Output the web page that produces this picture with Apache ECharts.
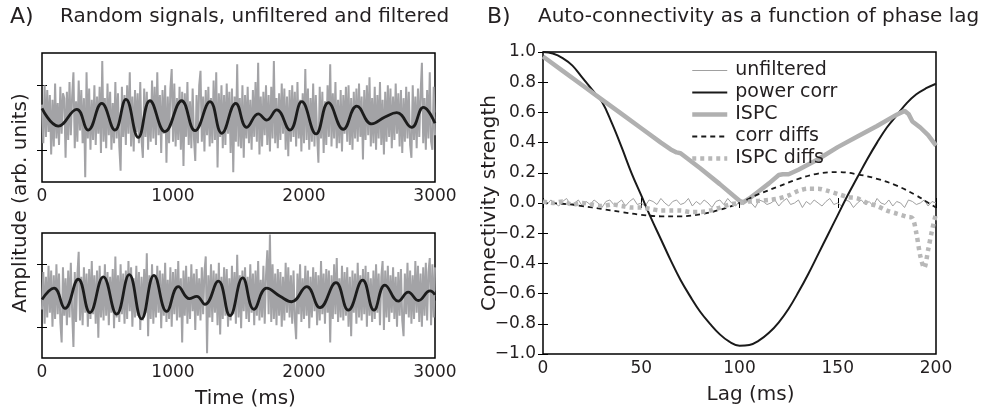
<!DOCTYPE html>
<html><head><meta charset="utf-8">
<script src="https://cdn.jsdelivr.net/npm/echarts@6/dist/echarts.min.js"></script>
<style>html,body{margin:0;padding:0;background:#fff}#c{width:981px;height:410px}</style>
</head><body><div id="c"></div>
<script>
// ---------- Panel A data ----------
const timeRange = [0, 3000];
const timeTicks = [0, 1000, 2000, 3000];
// unfiltered signal (estimated, one value per ~10 ms)
const noiseTop = [
0.8,-1.6,2.0,-1.2,1.7,-0.9,1.4,-2.3,1.1,-1.8,2.1,-1.3,0.9,-1.7,1.9,-1.0,1.5,1.2,-2.5,1.6,
-1.4,2.2,-1.1,1.3,2.8,-1.9,1.0,-1.5,2.3,-0.8,1.7,-1.6,1.2,-3.7,2.8,-1.3,1.8,-2.0,1.1,-1.4,
2.0,-1.7,1.3,-1.0,1.9,-2.2,3.5,-1.5,1.2,-1.9,2.1,-1.1,1.6,-2.0,0.9,-1.6,2.2,-1.3,1.5,-1.8,
-3.3,1.9,-1.2,1.4,-1.7,2.0,-1.0,2.8,-1.8,1.3,-2.1,1.7,-0.9,1.5,-1.6,2.2,-1.4,-2.5,1.8,-1.2,
1.6,-2.0,1.1,-1.5,2.3,-1.3,1.9,-1.7,2.8,-1.1,1.4,-2.2,1.7,-1.0,2.0,-2.8,1.3,-1.6,1.8,3.0,
-1.5,2.1,-1.8,1.2,-1.4,1.9,-2.0,1.6,-3.0,1.5,-1.2,2.2,-1.7,1.0,-1.9,1.8,-1.3,-2.7,1.4,-1.6,
2.0,2.9,-1.5,1.3,-2.1,1.7,-1.1,1.9,-1.8,1.2,-1.6,2.3,-1.4,2.8,-3.1,1.5,-1.2,2.0,-1.9,1.4,
-1.7,2.1,-1.0,1.6,-2.2,1.8,-3.4,1.3,-1.5,3.3,-1.8,1.2,-1.9,2.0,-2.5,1.4,-1.3,1.9,-1.6,1.1,
-2.0,1.7,-1.2,2.2,-1.5,3.4,-2.3,1.3,-1.8,1.6,-1.1,2.0,-1.7,1.4,-2.1,1.9,-1.3,3.5,-1.6,1.2,
-1.9,1.5,-1.4,2.1,-1.0,1.8,-2.0,1.3,-2.4,1.7,-1.5,2.0,-1.2,1.6,-1.8,2.2,-1.3,1.1,-2.1,1.5,
-1.6,3.0,-1.4,1.8,-2.0,1.2,-1.5,2.1,-1.8,1.4,-1.1,-2.8,1.9,-1.3,1.6,-2.2,1.0,-1.7,2.0,-1.2,
3.3,-1.8,1.5,-1.3,2.2,-1.9,1.1,-1.6,1.7,-2.1,1.4,-1.0,1.9,-1.5,2.0,-1.7,1.2,-2.0,1.6,-1.3,
1.8,-1.5,2.1,-1.2,1.3,-2.6,1.7,-1.4,2.0,-1.1,2.5,-1.8,1.2,-1.6,1.9,-2.0,1.4,-1.3,2.2,-1.7,
1.1,-2.3,1.6,-1.5,2.0,-1.2,1.8,-1.9,1.3,-1.4,2.1,-1.0,1.5,-1.8,1.7,-2.2,1.2,-1.5,1.9,-1.3,
1.6,-1.7,-2.5,2.0,-1.4,1.3,-1.9,1.8,-1.2,1.5,3.4,-1.6,1.2,-2.0,1.7,-1.3,2.8,-1.5,-2.0,1.9,
-1.1];
const noiseBottom = [
-0.9,1.5,-1.8,1.2,-1.4,1.9,-1.1,1.6,-2.0,1.3,-1.5,2.0,-1.2,1.4,-1.7,-3.0,1.8,-1.3,1.1,-1.9,
1.6,-1.4,2.1,-1.0,-3.3,1.5,-1.7,1.3,2.8,-1.6,1.2,-1.9,1.8,-1.1,1.4,-2.0,1.7,-1.5,2.2,-1.2,
1.3,-1.8,1.6,-2.7,1.9,-1.4,1.1,-1.6,2.0,-1.3,1.5,-1.9,1.2,-1.1,1.7,-2.1,2.5,-1.4,1.3,-1.7,
2.0,-1.2,1.4,-1.8,1.6,-1.5,2.2,-1.0,1.8,-2.0,1.1,-1.4,1.9,-1.3,1.5,-2.2,1.2,-1.6,1.7,-1.1,
2.7,-2.6,1.3,-1.5,2.0,-1.8,1.2,-1.4,1.9,-1.1,1.6,-2.1,1.4,-1.3,2.1,-1.7,1.0,-1.5,1.8,-2.0,
1.5,-1.2,1.7,-1.6,2.2,-1.4,1.1,-3.0,1.6,-1.3,1.9,-1.8,1.2,-1.5,2.0,-1.0,1.4,-2.2,1.7,-1.3,
1.1,-1.6,1.8,-1.2,1.5,2.5,-3.7,1.3,-1.4,2.0,-1.7,1.6,-1.1,1.4,-1.9,2.1,-2.5,1.2,-1.5,1.8,
-1.3,1.7,-2.0,1.1,-1.6,1.9,-1.2,1.5,-1.8,2.6,-1.4,1.3,-2.1,1.6,-1.0,1.8,-1.5,1.2,-1.7,2.0,
-1.1,1.4,-1.9,1.6,-1.3,2.2,-1.6,1.0,-1.4,1.9,-1.8,1.3,2.9,-1.2,3.9,-1.7,2.0,-1.5,1.4,-1.9,
1.7,-1.3,1.5,-2.0,1.2,-1.6,2.1,-1.1,1.8,-1.4,1.3,-1.8,1.6,-1.5,-2.8,1.4,-1.2,2.0,-1.7,1.1,
-1.5,1.9,-1.3,1.6,-2.1,1.2,-1.4,1.8,-1.0,1.5,-1.9,1.3,-1.6,2.2,-1.2,1.4,-1.8,1.7,-1.1,1.6,
-3.0,1.3,-1.5,2.0,-1.2,2.4,-1.7,1.1,-1.4,1.9,-1.6,1.5,-1.3,1.8,-2.0,1.2,-2.6,1.6,-1.1,1.4,
-1.8,2.1,-1.4,1.3,-1.6,1.7,-1.2,1.9,-2.0,1.5,-1.3,1.1,-1.7,1.6,-1.5,2.0,-1.1,1.4,-1.9,1.2,
2.2,-2.2,1.6,-1.4,1.9,-1.7,1.3,-1.1,1.8,-1.5,1.2,-2.0,1.5,-1.3,1.7,-1.6,-2.6,1.4,-1.2,2.1,
-1.4,1.6,-1.8,1.3,-1.5,2.2,-1.1,1.9,-1.7,1.4,-2.0,1.8,-1.3,2.1,-1.6,1.5,2.4,-1.9,2.0,-1.4,
1.8];
// filtered signal: times (ms) of read points and values
const filtTopT = [0,124,265,353,456,557,641,735,824,939,1066,1168,1283,1372,1479,1563,1651,1715,1792,1893,1983,2092,2186,2300,2403,2517,2618,2708,2822,2911,3000];
const filtTopV = [0.57,-0.53,0.51,-0.78,0.88,-0.78,1.13,-1.23,1.04,-0.88,1.04,-0.82,0.98,-0.98,0.88,-0.61,0.22,-0.16,0.47,-0.78,0.98,-1.02,0.92,-0.73,0.71,-0.40,0.03,0.30,-0.61,0.63,-0.36];
const filtBotT = [0,92,176,277,366,468,570,666,760,855,952,1041,1125,1181,1244,1346,1435,1532,1618,1715,1817,1906,2021,2122,2244,2338,2448,2534,2618,2720,2796,2873,2962,3000];
const filtBotV = [-0.26,0.47,-0.82,1.04,-1.09,1.19,-1.19,1.33,-1.50,1.29,-1.02,0.57,-0.20,-0.05,-0.57,0.92,-1.29,1.13,-0.88,0.47,-0.05,-0.40,0.57,-0.78,0.82,-0.94,0.98,-0.94,0.67,-0.36,0.22,-0.32,0.30,0.05];

// ---------- Panel B data ----------
const lagRange = [0, 200];
const unfiltLag = Array.from({length: 101}, (_, i) => i * 2);
const unfiltered = [
0.01,-0.01,0.02,0.0,-0.02,0.01,0.03,-0.01,0.0,0.02,-0.02,0.01,-0.01,0.02,0.0,-0.03,0.01,0.02,-0.01,0.0,
0.02,-0.02,0.01,0.03,-0.01,0.0,-0.02,0.02,0.01,-0.01,0.03,0.0,-0.02,0.01,0.02,-0.01,0.0,0.03,-0.02,0.01,
-0.01,0.02,0.0,-0.03,0.01,0.02,-0.01,0.03,0.0,-0.02,0.01,-0.01,0.02,0.0,-0.03,0.02,0.01,-0.01,0.0,0.02,
-0.02,0.01,0.03,-0.01,0.0,0.02,-0.03,0.01,-0.01,0.02,0.0,-0.02,0.01,0.03,-0.01,0.0,-0.02,0.02,0.01,-0.03,
0.0,0.02,-0.01,0.01,-0.02,0.03,0.0,-0.01,0.02,-0.02,0.01,0.0,-0.03,0.02,0.01,-0.01,0.0,0.02,-0.02,0.01,
0.0];
const powerLag = [0,5,10,15,20,25,30,35,40,45,50,55,60,65,70,75,80,85,90,95,100,105,110,115,120,125,130,135,140,145,150,155,160,165,170,175,180,185,190,195,200];
const powerCorr = [1.00,0.99,0.96,0.91,0.83,0.75,0.67,0.53,0.37,0.20,0.05,-0.10,-0.24,-0.38,-0.51,-0.62,-0.72,-0.80,-0.87,-0.92,-0.945,-0.94,-0.91,-0.86,-0.79,-0.70,-0.59,-0.47,-0.34,-0.21,-0.08,0.05,0.17,0.29,0.40,0.50,0.58,0.66,0.72,0.76,0.79];
const ispcLag = [0,10,20,30,40,50,60,65,68,70,75,80,90,100,102,105,110,115,120,122,125,130,140,150,160,170,180,184,186,188,192,196,200];
const ispc = [0.97,0.875,0.78,0.685,0.59,0.495,0.40,0.355,0.335,0.33,0.28,0.23,0.125,0.015,0.005,0.03,0.08,0.13,0.185,0.19,0.19,0.22,0.29,0.37,0.44,0.51,0.585,0.61,0.59,0.54,0.50,0.45,0.38];
const corrDiffLag = [0,10,20,30,40,50,60,70,80,90,100,105,110,120,130,140,150,160,170,180,190,195,200];
const corrDiffs = [0.0,-0.005,-0.02,-0.04,-0.06,-0.078,-0.088,-0.088,-0.075,-0.045,0.0,0.03,0.06,0.11,0.16,0.195,0.205,0.19,0.16,0.115,0.05,0.01,-0.03];
const ispcDiffLag = [0,5,10,15,20,25,30,35,40,45,50,55,60,65,70,75,80,85,90,95,100,105,110,115,120,125,130,135,140,145,150,155,160,165,170,175,180,185,188,190,192,194,196,198,200];
const ispcDiffs = [0.01,0.0,0.01,-0.01,0.0,-0.01,-0.02,-0.01,-0.02,-0.03,-0.03,-0.04,-0.05,-0.05,-0.05,-0.06,-0.06,-0.05,-0.03,-0.01,0.0,0.01,0.015,0.02,0.03,0.05,0.08,0.095,0.095,0.08,0.06,0.04,0.03,0.0,-0.02,-0.05,-0.07,-0.09,-0.1,-0.2,-0.35,-0.43,-0.31,-0.18,-0.07];
const lagTicks = [0, 50, 100, 150, 200];
const connRange = [-1, 1];

// ---------- build ----------
const FONT = 'DejaVu Sans';
const TXT = '#231f20';
const zip = (xs, ys) => xs.map((x, i) => [x, ys[i]]);
const sampled = (vals) => vals.map((v, i) => [timeRange[0] + i * (timeRange[1] - timeRange[0]) / (vals.length - 1), v]);

const tick = {show: true, inside: true, length: 5, lineStyle: {color: '#000', width: 1}};
function xPair(grid, min, max, interval, labelFn, name, nameShift) {
  return [
    {type: 'value', gridIndex: grid, min, max, interval, position: 'bottom',
     axisLine: {show: false}, splitLine: {show: false}, axisTick: tick,
     axisLabel: {show: true, formatter: labelFn, color: TXT, fontFamily: FONT, fontSize: 17, margin: 6, hideOverlap: false},
     name: name || '', nameLocation: 'middle', nameGap: 31, nameMoveOverlap: false,
     nameTextStyle: {color: TXT, fontFamily: FONT, fontSize: 20, padding: [0, 0, 0, nameShift || 0]}},
    {type: 'value', gridIndex: grid, min, max, interval, position: 'top',
     axisLine: {show: false}, splitLine: {show: false}, axisTick: tick, axisLabel: {show: false}}
  ];
}
const tLabel = v => (timeTicks.indexOf(v) >= 0 ? String(v) : '');
const lagLabel = v => (lagTicks.indexOf(v) >= 0 ? String(v) : '');
const connLabel = v => { if (Math.abs(v) < 1e-9) return '0.0'; return v.toFixed(1).replace('-', '\u2212'); };

const xAxis = [].concat(
  xPair(0, 0, 3000, 500, tLabel),
  xPair(1, 0, 3000, 500, tLabel, 'Time (ms)', 14),
  xPair(2, 0, 200, 50, lagLabel, 'Lag (ms)', 22)
);
function yA(grid, pos) {
  return {type: 'value', gridIndex: grid, min: -4, max: 4, position: pos,
    axisLine: {show: false}, splitLine: {show: false},
    axisTick: Object.assign({}, tick, {customValues: [-2, 2]}), axisLabel: {show: false}};
}
const yAxis = [
  yA(0, 'left'), yA(0, 'right'), yA(1, 'left'), yA(1, 'right'),
  {type: 'value', gridIndex: 2, min: connRange[0], max: connRange[1], interval: 0.2, position: 'left',
   axisLine: {show: false}, splitLine: {show: false}, axisTick: tick,
   axisLabel: {formatter: connLabel, color: TXT, fontFamily: FONT, fontSize: 17, margin: 7},
   name: 'Connectivity strength', nameLocation: 'middle', nameGap: 43, nameMoveOverlap: false,
   nameTextStyle: {color: TXT, fontFamily: FONT, fontSize: 20}},
  {type: 'value', gridIndex: 2, min: connRange[0], max: connRange[1], interval: 0.2, position: 'right',
   axisLine: {show: false}, splitLine: {show: false}, axisTick: tick, axisLabel: {show: false}}
];
const box = {show: true, borderColor: '#000', borderWidth: 1.5, backgroundColor: 'transparent', containLabel: false};
const grid = [
  Object.assign({left: 42, top: 53, width: 393, height: 129}, box),
  Object.assign({left: 42, top: 233, width: 393, height: 129}, box),
  Object.assign({left: 543, top: 52, width: 393, height: 310}, box)
];
const base = {type: 'line', symbol: 'none', animation: false, silent: true};
const GRAYN = '#a3a3a6';
const styles = {
  unfiltered: {color: '#a0a0a0', width: 1},
  power: {color: '#1a1a1a', width: 2},
  ispc: {color: '#b0b0b0', width: 4.5},
  corrDiff: {color: '#1a1a1a', width: 1.8, type: [5, 4]},
  ispcDiff: {color: '#b8b8b8', width: 4.5, type: [4, 4]}
};
const series = [
  Object.assign({}, base, {xAxisIndex: 0, yAxisIndex: 0, data: sampled(noiseTop), lineStyle: {color: GRAYN, width: 2}}),
  Object.assign({}, base, {xAxisIndex: 0, yAxisIndex: 0, data: zip(filtTopT, filtTopV), smooth: 0.45, lineStyle: {color: '#1c1c1c', width: 2.8}}),
  Object.assign({}, base, {xAxisIndex: 2, yAxisIndex: 2, data: sampled(noiseBottom), lineStyle: {color: GRAYN, width: 2}}),
  Object.assign({}, base, {xAxisIndex: 2, yAxisIndex: 2, data: zip(filtBotT, filtBotV), smooth: 0.45, lineStyle: {color: '#1c1c1c', width: 2.8}}),
  Object.assign({}, base, {name: 'unfiltered', xAxisIndex: 4, yAxisIndex: 4, data: zip(unfiltLag, unfiltered), lineStyle: styles.unfiltered}),
  Object.assign({}, base, {name: 'power corr', xAxisIndex: 4, yAxisIndex: 4, data: zip(powerLag, powerCorr), smooth: 0.4, lineStyle: styles.power}),
  Object.assign({}, base, {name: 'ISPC', xAxisIndex: 4, yAxisIndex: 4, data: zip(ispcLag, ispc), lineStyle: styles.ispc}),
  Object.assign({}, base, {name: 'corr diffs', xAxisIndex: 4, yAxisIndex: 4, data: zip(corrDiffLag, corrDiffs), smooth: 0.4, lineStyle: styles.corrDiff}),
  Object.assign({}, base, {name: 'ISPC diffs', xAxisIndex: 4, yAxisIndex: 4, data: zip(ispcDiffLag, ispcDiffs), smooth: 0.3, lineStyle: styles.ispcDiff})
];
const tStyle = (size) => ({color: TXT, fontFamily: FONT, fontSize: size, fontWeight: 'normal'});
const chart = echarts.init(document.getElementById('c'), null, {renderer: 'canvas'});
chart.setOption({
  animation: false,
  backgroundColor: '#fff',
  title: [
    {text: 'A)', left: 10, top: 6, padding: 0, textStyle: tStyle(22)},
    {text: 'Random signals, unfiltered and filtered', left: 60, top: 7, padding: 0, textStyle: tStyle(20)},
    {text: 'B)', left: 487, top: 6, padding: 0, textStyle: tStyle(22)},
    {text: 'Auto-connectivity as a function of phase lag', left: 538, top: 7, padding: 0, textStyle: tStyle(20)}
  ],
  legend: {
    data: [
      {name: 'unfiltered', lineStyle: styles.unfiltered},
      {name: 'power corr', lineStyle: styles.power},
      {name: 'ISPC', lineStyle: styles.ispc},
      {name: 'corr diffs', lineStyle: styles.corrDiff},
      {name: 'ISPC diffs', lineStyle: styles.ispcDiff}
    ],
    orient: 'vertical', left: 690, top: 61, padding: 0,
    itemWidth: 35, itemHeight: 14, itemGap: 3,
    itemStyle: {opacity: 0},
    textStyle: {color: TXT, fontFamily: FONT, fontSize: 19, padding: [0, 0, 0, 3]},
    selectedMode: false
  },
  graphic: [{
    type: 'text', x: 21, y: 203, rotation: Math.PI / 2,
    style: {text: 'Amplitude (arb. units)', fill: TXT, font: '20px "DejaVu Sans"', textAlign: 'center', textVerticalAlign: 'middle'}
  }],
  grid, xAxis, yAxis, series
});
</script></body></html>
